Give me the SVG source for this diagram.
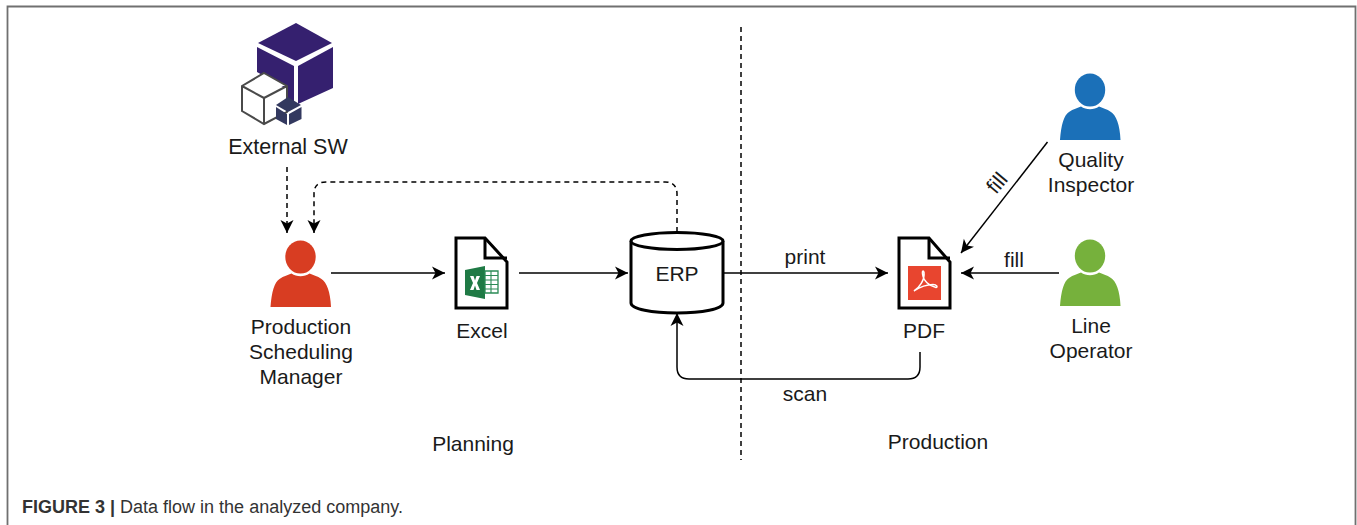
<svg xmlns="http://www.w3.org/2000/svg" width="1357" height="525" viewBox="0 0 1357 525">
<style>
text{font-family:"Liberation Sans",Arial,sans-serif;font-size:21px;fill:#1a1a1a;text-anchor:middle}
.c{fill:none;stroke:#000;stroke-width:1.500}
.d{stroke-dasharray:5 4}
.doc{fill:#fff;stroke:#000;stroke-width:3}
.fold{fill:none;stroke:#000;stroke-width:3}
</style>
<defs>
<marker id="a" markerUnits="userSpaceOnUse" markerWidth="16" markerHeight="16" refX="13" refY="7" orient="auto"><path d="M0 0.500L13 7L0 13.500L3.500 7Z" fill="#000"/></marker>
<symbol id="person" overflow="visible"><ellipse cx="30" cy="17" rx="15.200" ry="16.500"/><path d="M0 67C1 52 4 42 9 39C13 36 18 35 21 33.500C26 37 34 37 39 33.500C42 35 47 36 51 39C56 42 60 52 60.500 67Z"/></symbol>
</defs>
<path d="M7.500 525V6.500H1355.500V525" fill="none" stroke="#707070" stroke-width="1.800"/>
<g id="connectors">
<path class="c d" d="M741 27V460"/>
<path class="c d" d="M287 167V233" marker-end="url(#a)"/>
<path class="c d" d="M677 232V194Q677 182 665 182H326Q314 182 314 194V233" marker-end="url(#a)"/>
<path class="c" d="M331 273H445" marker-end="url(#a)"/>
<path class="c" d="M519 273H628" marker-end="url(#a)"/>
<path class="c" d="M724 273H888" marker-end="url(#a)"/>
<path class="c" d="M1059 273H961" marker-end="url(#a)"/>
<path class="c" d="M1047.500 142L961 253" marker-end="url(#a)"/>
<path class="c" d="M920 352V367Q920 379 908 379H689Q677 379 677 367V313" marker-end="url(#a)"/>
</g>
<g id="external-sw">
<path d="M296 23L332 43L296 61L258 43Z" fill="#35206f"/>
<path d="M257 47L294 66V103L285 99V88L257 72Z" fill="#35206f"/>
<path d="M298 66L333 47V88L298 104Z" fill="#35206f"/>
<path d="M264 73L287 86V112L264 124L242 111V86ZM242 86L264 98L287 86M264 98V124" fill="#fff" stroke="#4a4a4a" stroke-width="2"/>
<path d="M288 97L301 105L288 112L276 105Z" fill="#33395f"/>
<path d="M276 107L287 114V125L276 119Z" fill="#33395f"/>
<path d="M301.500 107L289 114V125L301.500 119Z" fill="#33395f"/>
<text x="288" y="154" style="font-size:21.500px">External SW</text>
</g>
<g id="production-scheduling-manager">
<use href="#person" x="270.500" y="240" fill="#d83d22"/>
<text x="301" y="334">Production</text><text x="301" y="359">Scheduling</text><text x="301" y="384">Manager</text>
</g>
<g id="excel">
<path class="doc" d="M456 238H485L507 262V308H456Z"/><path class="fold" d="M485 238V258H507"/>
<path d="M465 270L485 266V299L465 295Z" fill="#1f7a45"/>
<path d="M485 271H498V293H485Z" fill="#fff" stroke="#2b8a55" stroke-width="1.300"/>
<path d="M485 275.500H498M485 280H498M485 284.500H498M485 289H498M491 271V293" stroke="#2b8a55" stroke-width="1.100"/>
<path d="M470 276H473.500L475 280.500L476.500 276H480L477 283L480 290H476.500L475 285.500L473.500 290H470L473 283Z" fill="#fff"/>
<text x="482" y="338">Excel</text>
</g>
<g id="erp">
<path d="M631 241V303C631 309 652 313 677 313C702 313 723 309 723 303V241" fill="#fff" stroke="#000" stroke-width="3"/>
<ellipse cx="677" cy="241" rx="46" ry="8.500" fill="#fff" stroke="#000" stroke-width="3"/>
<text x="677" y="281">ERP</text>
</g>
<g id="pdf">
<path class="doc" d="M899 238H929L950 262V308H899Z"/><path class="fold" d="M929 238V258H950"/>
<rect x="908" y="266" width="33" height="34" fill="#e8452f"/>
<path d="M914 291C919 288 925 280 924 272.500C923.500 270 922 271 922.500 274C923.500 281 929 286 936 287.500C938 287.500 937 284.500 933 284.500C925 284.500 917 289 914 291Z" fill="none" stroke="#fff" stroke-width="1.500"/>
<text x="924" y="338">PDF</text>
</g>
<g id="quality-inspector">
<use href="#person" x="1060" y="73" fill="#1b70b8"/>
<text x="1091" y="167">Quality</text><text x="1091" y="192">Inspector</text>
</g>
<g id="line-operator">
<use href="#person" x="1060" y="239" fill="#76b13c"/>
<text x="1091" y="333">Line</text><text x="1091" y="358">Operator</text>
</g>
<g id="labels">
<text x="805" y="264">print</text>
<text x="1014" y="267">fill</text>
<text x="997" y="190" transform="rotate(-50 997 183)">fill</text>
<text x="805" y="401">scan</text>
<text x="473" y="451">Planning</text>
<text x="938" y="449">Production</text>
</g>
<text x="22" y="513" style="text-anchor:start;font-size:18px;fill:#333"><tspan font-weight="bold">FIGURE 3 |</tspan> Data flow in the analyzed company.</text>
</svg>
